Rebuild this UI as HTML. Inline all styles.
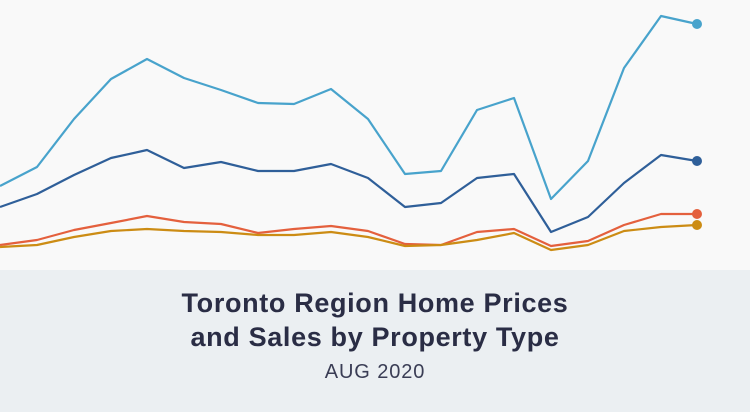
<!DOCTYPE html>
<html><head><meta charset="utf-8"><style>
html,body{margin:0;padding:0;}
body{width:750px;height:412px;background:#f9f9f9;overflow:hidden;position:relative;font-family:"Liberation Sans",sans-serif;}
.bot{position:absolute;left:0;top:270px;width:750px;height:142px;background:#ebeff2;text-align:center;color:#2a2d45;}
.t{position:absolute;left:0;width:750px;font-size:27px;font-weight:bold;letter-spacing:0.65px;}
.s{position:absolute;left:0;width:750px;top:91px;font-size:20px;letter-spacing:0.9px;color:#3a3d55;}
</style></head><body>
<svg width="750" height="270" style="position:absolute;left:0;top:0">
<g fill="none" stroke-width="2.2" stroke-linejoin="round">
<polyline stroke="#48a3cc" points="0,186 37,167 74,119 111,79 147,59 184,78 221,90 258,103 294,104 331,89 368,119 405,174 441,171 477,110 514,98 551,199 588,161 624,68 661,16 697,24"/>
<polyline stroke="#2f5f99" points="0,207 37,194 74,175 111,158 147,150 184,168 221,162 258,171 294,171 331,164 368,178 405,207 441,203 477,178 514,174 551,232 588,217 624,183 661,155 697,161"/>
<polyline stroke="#e4603d" points="0,245 37,240 74,230 111,223 147,216 184,222 221,224 258,233 294,229 331,226 368,231 405,244 441,245 477,232 514,229 551,246 588,241 624,225 661,214 697,214"/>
<polyline stroke="#cc8c14" points="0,247 37,245 74,237 111,231 147,229 184,231 221,232 258,235 294,235 331,232 368,237 405,246 441,245 477,240 514,233 551,250 588,245 624,231 661,227 697,225"/>
</g>
<circle cx="697" cy="24" r="5" fill="#48a3cc"/>
<circle cx="697" cy="161" r="5" fill="#2f5f99"/>
<circle cx="697" cy="214" r="5" fill="#e4603d"/>
<circle cx="697" cy="225" r="5" fill="#cc8c14"/>
</svg>
<div class="bot">
<div class="t" style="top:18px">Toronto Region Home Prices</div>
<div class="t" style="top:52px">and Sales by Property Type</div>
<div class="s">AUG 2020</div>
</div>
</body></html>
